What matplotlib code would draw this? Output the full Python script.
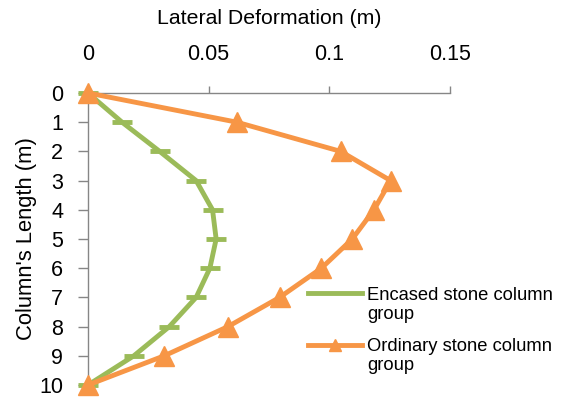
import numpy as np
import matplotlib.pyplot as plt
from matplotlib.lines import Line2D

plt.rcParams['font.family'] = ['Liberation Sans', 'DejaVu Sans']

# depth along the column (m) and lateral deformation (m) of each group
depth = [0, 1, 2, 3, 4, 5, 6, 7, 8, 9, 10]
encased = [0, 0.0141, 0.0297, 0.0448, 0.0516, 0.0531, 0.0505, 0.0448, 0.0337, 0.019, 0]
ordinary = [0, 0.0617, 0.1047, 0.1254, 0.1185, 0.1095, 0.0967, 0.0794, 0.058, 0.0316, 0]

labels = ["Encased stone column\ngroup", "Ordinary stone column\ngroup"]
x_ticks = [0, 0.05, 0.1, 0.15]
x_ticklabels = ["0", "0.05", "0.1", "0.15"]

green = "#9BBB59"
orange = "#F79646"
grey = "#868686"
W, H = 565, 398

fig = plt.figure(figsize=(W / 100, H / 100), dpi=100)
ax = fig.add_axes([88 / W, 1 - 385 / H, (450 - 88) / W, (385 - 93) / H])

ax.plot(encased, depth, color=green, lw=3.5, marker="_", ms=14, mew=3.5,
        clip_on=False, zorder=3)
ax.plot(ordinary, depth, color=orange, lw=3.5, marker="^", ms=14,
        clip_on=False, zorder=4)

ax.set_xlim(0, 0.15)
ax.set_ylim(10, 0)
ax.set_xticks(x_ticks)
ax.set_xticklabels(x_ticklabels)
ax.set_yticks(depth)

ax.xaxis.tick_top()
ax.xaxis.set_label_position("top")
ax.tick_params(axis="x", length=5, width=1, color=grey, pad=15, labelsize=15.5)
ax.tick_params(axis="y", length=7, width=1, color=grey, pad=11, labelsize=15.5)

for side in ["right", "bottom"]:
    ax.spines[side].set_visible(False)
for side in ["top", "left"]:
    ax.spines[side].set_color(grey)
    ax.spines[side].set_linewidth(1)

ax.set_xlabel("Lateral Deformation (m)", fontsize=15.3, labelpad=14.5)
ax.set_ylabel("Column's Length (m)", fontsize=15.8, labelpad=1.5)

# legend, handle sits level with the first line of each label
def fx(px):
    return px / W

def fy(py):
    return 1 - py / H

fig.add_artist(Line2D([fx(308), fx(362)], [fy(293), fy(293)], color=green,
                      lw=3.5, transform=fig.transFigure))
fig.add_artist(Line2D([fx(308), fx(362)], [fy(345), fy(345)], color=orange,
                      lw=3.5, transform=fig.transFigure))
fig.add_artist(Line2D([fx(335)], [fy(345)], color=orange, marker="^", ms=8,
                      transform=fig.transFigure))
fig.text(fx(367), fy(305), labels[0], fontsize=13.2, va="center",
         ha="left", linespacing=1.1)
fig.text(fx(367), fy(356), labels[1], fontsize=13.2, va="center",
         ha="left", linespacing=1.1)

fig.savefig("out.png", dpi=100)
